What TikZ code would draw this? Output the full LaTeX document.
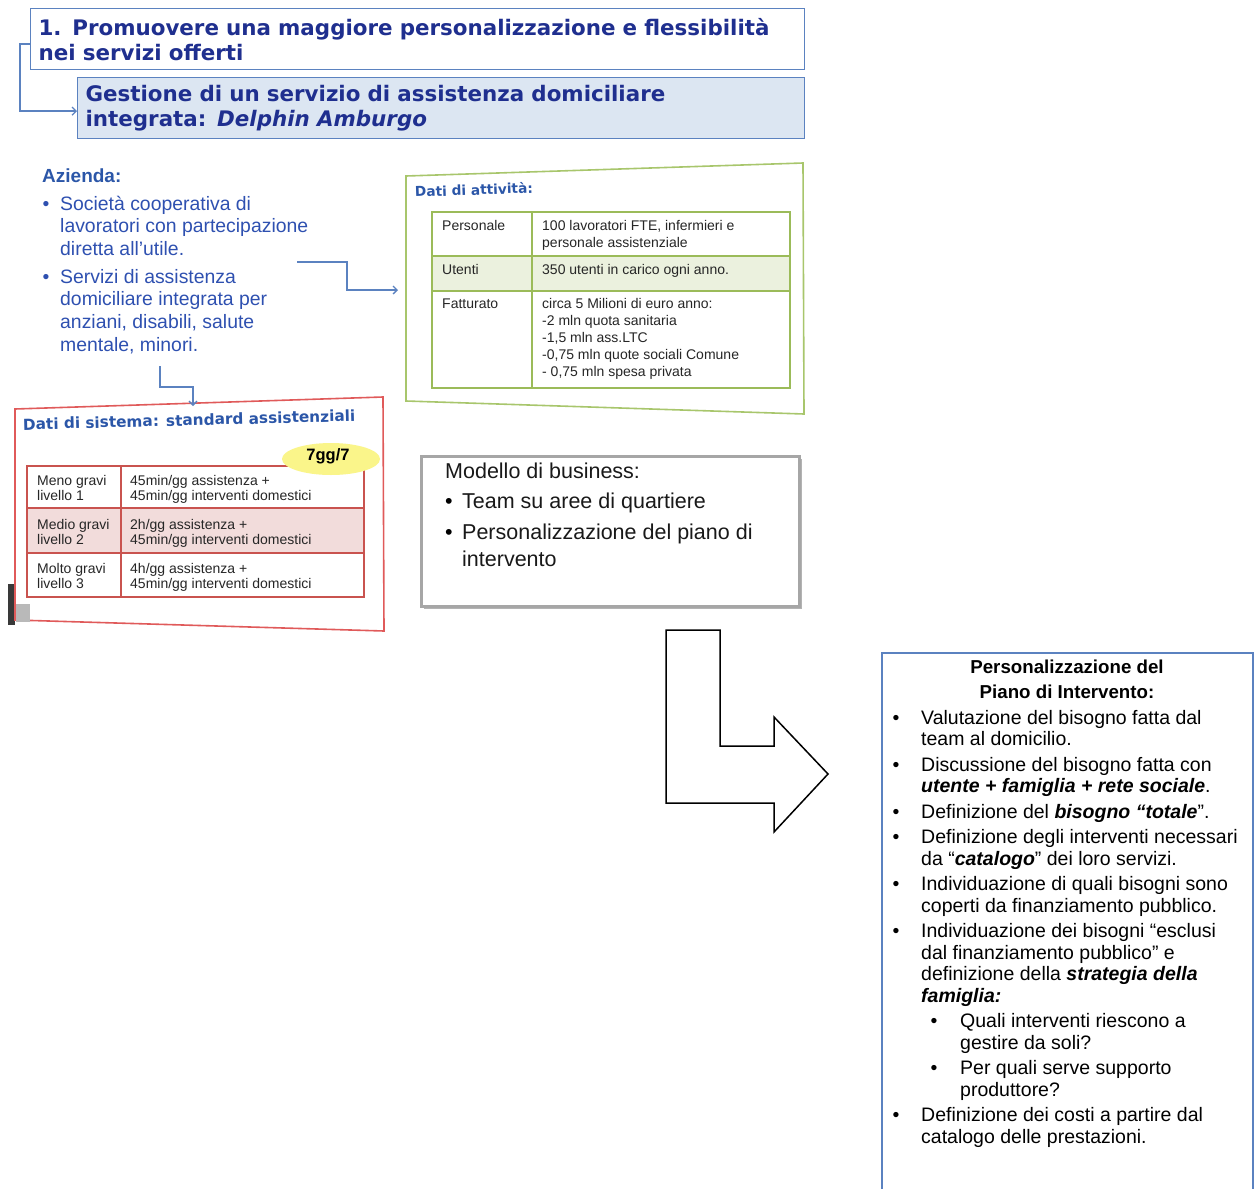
\documentclass[tikz,border=0pt]{standalone}
\usepackage{fontspec}
\setmainfont{Liberation Sans}
\newfontfamily\verdana{DejaVu Sans}
\usetikzlibrary{positioning,arrows.meta,shadows,shapes.geometric}

\definecolor{navy}{HTML}{1F2F8F}
\definecolor{frameBlue}{HTML}{5B82C0}
\definecolor{paleBlue}{HTML}{DCE6F2}
\definecolor{inkBlue}{HTML}{2E50B0}
\definecolor{headBlue}{HTML}{2B56A8}
\definecolor{leafGreen}{HTML}{A8C66C}
\definecolor{tabGreen}{HTML}{9BBB59}
\definecolor{paleGreen}{HTML}{EBF1DE}
\definecolor{boxRed}{HTML}{E05A5A}
\definecolor{tabRed}{HTML}{C9534F}
\definecolor{palePink}{HTML}{F2DCDB}
\definecolor{sunYellow}{HTML}{FAF58A}

\begin{document}
\begin{tikzpicture}[
        x=1pt, y=-1pt,
        titleBox/.style={rectangle, draw=frameBlue, line width=1.2pt, fill=white, anchor=north west, align=left, inner xsep=8pt, inner ysep=0pt, text=navy, font=\verdana\bfseries\fontsize{21.4}{25}\selectfont},
        linkArrow/.style={draw=frameBlue, line width=1.3pt, -{Straight Barb[length=4pt,width=8pt]}},
        bulletMark/.style={anchor=base, inner sep=0pt},
        azText/.style={anchor=base west, align=left, inner sep=0pt, text=inkBlue, font=\fontsize{19.4}{22.8}\selectfont},
        panelHead/.style={anchor=base west, inner sep=0pt, text=headBlue, font=\verdana\bfseries\fontsize{13.7}{16}\selectfont},
        cellGreen/.style={anchor=base west, align=left, inner sep=0pt, text=black!85, font=\fontsize{14}{17.2}\selectfont},
        cellRed/.style={anchor=base west, align=left, inner sep=0pt, text=black!85, font=\fontsize{14}{15}\selectfont},
        modelBox/.style={rectangle, draw=gray!70, line width=2.8pt, fill=white, anchor=north west, drop shadow={shadow xshift=2.5pt, shadow yshift=-2.5pt, opacity=0.6}},
        modelText/.style={anchor=base west, align=left, inner sep=0pt, text=black!90, font=\fontsize{21.5}{27}\selectfont},
        planText/.style={anchor=base west, align=left, inner sep=0pt, font=\fontsize{19.5}{21.5}\selectfont},
        planHead/.style={anchor=base, align=center, inner sep=0pt, font=\bfseries\fontsize{18.7}{25}\selectfont}
    ]
        \useasboundingbox (0,0) rectangle (1259,1189);

        % Title boxes
        \node[titleBox, text width=758pt, minimum height=61pt] (title) at (30,8)
            {1. Promuovere una maggiore personalizzazione e flessibilità\\nei servizi offerti};
        \node[titleBox, fill=paleBlue, text width=711pt, minimum height=61pt] (case) at (77,77)
            {Gestione di un servizio di assistenza domiciliare\\integrata: \textit{Delphin Amburgo}};

        % Azienda (multi-line nodes sit on their last baseline)
        \node[azText, text=headBlue, font=\bfseries\fontsize{19}{22}\selectfont] (azienda) at (42,182) {Azienda:};
        \node[bulletMark, text=inkBlue, font=\fontsize{19.4}{22.8}\selectfont] (azDot1) at (46,210) {•};
        \node[azText] (azItem1) at (60,255.6) {Società cooperativa di\\lavoratori con partecipazione\\diretta all’utile.};
        \node[bulletMark, text=inkBlue, font=\fontsize{19.4}{22.8}\selectfont] (azDot2) at (46,283) {•};
        \node[azText] (azItem2) at (60,351.4) {Servizi di assistenza\\domiciliare integrata per\\anziani, disabili, salute\\mentale, minori.};

        % Dati di attivita
        \draw[leafGreen, line width=1.6pt, fill=white] (406,176) -- (803,163) -- (804,414) -- (406,401) -- cycle;
        \node[panelHead, rotate=2] (attHead) at (415,197) {Dati di attività:};
        \fill[paleGreen] (432,256) rectangle (790,291);
        \draw[tabGreen, line width=1.8pt] (432,212) rectangle (790,388)
            (432,256) -- (790,256) (432,291) -- (790,291) (532,212) -- (532,388);
        \node[cellGreen] (perLab) at (442,230) {Personale};
        \node[cellGreen] (perVal) at (542,247.2) {100 lavoratori FTE, infermieri e\\personale assistenziale};
        \node[cellGreen] (utLab) at (442,274) {Utenti};
        \node[cellGreen] (utVal) at (542,274) {350 utenti in carico ogni anno.};
        \node[cellGreen] (fatLab) at (442,308) {Fatturato};
        \node[cellGreen] (fatVal) at (542,376.8) {circa 5 Milioni di euro anno:\\-2 mln quota sanitaria\\-1,5 mln ass.LTC\\-0,75 mln quote sociali Comune\\- 0,75 mln spesa privata};

        % Dati di sistema
        \fill[gray!45!black] (8,584) rectangle (15,625);
        \draw[boxRed, line width=1.6pt, fill=white] (15,409) -- (383,397) -- (384,631) -- (15,620) -- cycle;
        \fill[gray!55] (16,604) rectangle (30,622);
        \node[panelHead, font=\verdana\bfseries\fontsize{15.3}{18}\selectfont, rotate=1.5] (sisHead) at (23,430) {Dati di sistema: standard assistenziali};
        \fill[palePink] (27,508) rectangle (364,553);
        \draw[tabRed, line width=1.5pt] (27,466) rectangle (364,597)
            (27,508) -- (364,508) (27,553) -- (364,553) (121,466) -- (121,597);
        \node[cellRed] (lev1) at (37,500) {Meno gravi\\livello 1};
        \node[cellRed] (std1) at (130,500) {45min/gg assistenza +\\45min/gg interventi domestici};
        \node[cellRed] (lev2) at (37,544) {Medio gravi\\livello 2};
        \node[cellRed] (std2) at (130,544) {2h/gg assistenza +\\45min/gg interventi domestici};
        \node[cellRed] (lev3) at (37,588) {Molto gravi\\livello 3};
        \node[cellRed] (std3) at (130,588) {4h/gg assistenza +\\45min/gg interventi domestici};
        \node[ellipse, fill=sunYellow, minimum width=98pt, minimum height=32pt, inner sep=0pt] (week) at (331,459) {};
        \node[font=\bfseries\fontsize{16.5}{18}\selectfont, inner sep=0pt, anchor=base] (weekText) at (328,460) {7gg/7};

        % Modello di business
        \node[modelBox, minimum width=378pt, minimum height=150pt] (model) at (420,455) {};
        \node[modelText] (modHead) at (445,478) {Modello di business:};
        \node[bulletMark, font=\fontsize{21.5}{27}\selectfont] (modDot1) at (449,508) {•};
        \node[modelText] (modItem1) at (462,508) {Team su aree di quartiere};
        \node[bulletMark, font=\fontsize{21.5}{27}\selectfont] (modDot2) at (449,539) {•};
        \node[modelText] (modItem2) at (462,566) {Personalizzazione del piano di\\intervento};

        % Big arrow
        \draw[line width=1.5pt, fill=white] (666,630) -- (720,630) -- (720,746) -- (774,746) -- (774,717)
            -- (828,774) -- (774,832) -- (774,803) -- (666,803) -- cycle;

        % Piano di intervento
        \draw[frameBlue, line width=1.4pt] (882,1189) -- (882,653) -- (1253,653) -- (1253,1189);
        \node[planHead] (planTitle) at (1067,698) {Personalizzazione del\\Piano di Intervento:};
        \foreach \y [count=\i] in {724,771,818,843.5,890.5,937.5,1121.5}
            \node[bulletMark, font=\fontsize{19.5}{21.5}\selectfont] (pb\i) at (896,\y) {•};
        \foreach \y [count=\i] in {1027.5,1074.5}
            \node[bulletMark, font=\fontsize{19.5}{21.5}\selectfont] (sb\i) at (934,\y) {•};
        \node[planText] (step1) at (921,745.5) {Valutazione del bisogno fatta dal\\team al domicilio.};
        \node[planText] (step2) at (921,792.5) {Discussione del bisogno fatta con\\\textbf{\textit{utente + famiglia + rete sociale}}.};
        \node[planText] (step3) at (921,818) {Definizione del \textbf{\textit{bisogno “totale}}”.};
        \node[planText] (step4) at (921,865) {Definizione degli interventi necessari\\da “\textbf{\textit{catalogo}}” dei loro servizi.};
        \node[planText] (step5) at (921,912) {Individuazione di quali bisogni sono\\coperti da finanziamento pubblico.};
        \node[planText] (step6) at (921,1002) {Individuazione dei bisogni “esclusi\\dal finanziamento pubblico” e\\definizione della \textbf{\textit{strategia della}}\\\textbf{\textit{famiglia:}}};
        \node[planText] (sub1) at (960,1049) {Quali interventi riescono a\\gestire da soli?};
        \node[planText] (sub2) at (960,1096) {Per quali serve supporto\\produttore?};
        \node[planText] (step7) at (921,1143) {Definizione dei costi a partire dal\\catalogo delle prestazioni.};

        % Edges
        \coordinate (azOut) at (297,262);
        \coordinate (attIn) at (398,290);
        \coordinate (azDown) at (160,366);
        \coordinate (sisIn) at (193,406);
        \draw[linkArrow] ([yshift=-5pt]title.west) -- ++(-10,0) |- ([yshift=-3pt]case.west);
        \draw[linkArrow] (azOut) -- ++(50,0) |- (attIn);
        \draw[linkArrow] (azDown) -- ++(0,21) -| (sisIn);
    \end{tikzpicture}
\end{document}
